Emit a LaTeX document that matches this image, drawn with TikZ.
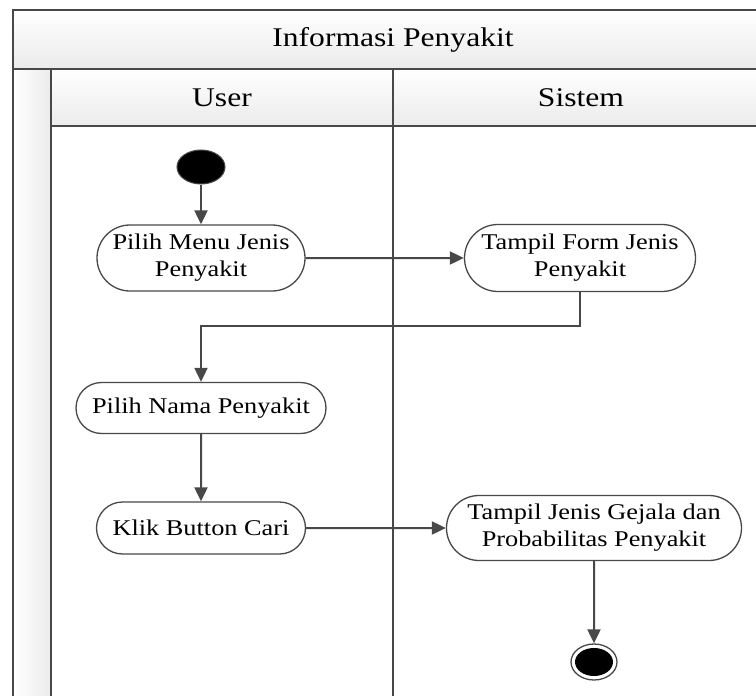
\documentclass[tikz,border=0pt]{standalone}
\usepackage{fontspec}
\setmainfont{Liberation Serif}[FakeStretch=1.17]
\usetikzlibrary{arrows.meta,shapes.misc,shapes.geometric}
\definecolor{linegray}{HTML}{484848}
\definecolor{shadegray}{HTML}{EBEBEB}
\newcommand{\actfont}{\fontsize{22.5}{27}\selectfont}
\newcommand{\headfont}{\fontsize{27}{32}\selectfont}
\begin{document}
\begin{tikzpicture}[x=1pt,y=-1pt,
  frame/.style={draw=linegray, line width=1.8pt},
  act/.style={rounded rectangle, draw=linegray, line width=1.3pt, fill=white,
    inner sep=0pt, align=center, font=\actfont},
  flow/.style={draw=linegray, line width=2pt, -{Triangle[length=14pt,width=13pt]}},
  head/.style={font=\headfont, inner sep=0pt},
]
\useasboundingbox (0,0) rectangle (756,696);
\begin{scope}
  \clip (0,0) rectangle (756,696);
  % shaded title band, lane headers and side strip
  \shade[top color=white, bottom color=shadegray] (13,10) rectangle (773,69);
  \shade[top color=white, bottom color=shadegray] (51,69) rectangle (773,126);
  \shade[left color=white, right color=shadegray] (13,69) rectangle (51,710);
  % pool and lane borders
  \draw[frame] (773,10) -- (13,10) -- (13,710);
  \draw[frame] (13,69) -- (773,69);
  \draw[frame] (51,69) -- (51,710);
  \draw[frame] (51,126) -- (773,126);
  \draw[frame] (393,69) -- (393,710);
\end{scope}

% headers
\node[head] (title) at (393,40) {Informasi Penyakit};
\node[head] (user) at (222,98) {User};
\node[head] (sistem) at (581,98) {Sistem};

% activities
\node[ellipse, fill=black, draw=linegray, line width=1pt,
  minimum width=48pt, minimum height=34pt, inner sep=0pt] (start) at (201,167) {};
\node[act, minimum width=208pt, minimum height=66pt] (n1) at (201,258)
  {Pilih Menu Jenis\\Penyakit};
\node[act, minimum width=231pt, minimum height=67pt] (n2) at (580,258)
  {Tampil Form Jenis\\Penyakit};
\node[act, minimum width=250pt, minimum height=51pt] (n3) at (201,408)
  {Pilih Nama Penyakit};
\node[act, minimum width=209pt, minimum height=52pt] (n4) at (201,528)
  {Klik Button Cari};
\node[act, minimum width=295pt, minimum height=65pt] (n5) at (594,528)
  {Tampil Jenis Gejala dan\\Probabilitas Penyakit};
\node[ellipse, draw=linegray, line width=1.3pt, fill=white,
  minimum width=46pt, minimum height=36pt, inner sep=0pt] (fin) at (594,662) {};
\fill[black] (fin.center) ellipse [x radius=19pt, y radius=14pt];

% control flow
\draw[flow] (start) -- (n1);
\draw[flow] (n1) -- (n2);
\draw[flow] (n2.south) -- ++(0,34) -| (n3.north);
\draw[flow] (n3) -- (n4);
\draw[flow] (n4) -- (n5);
\draw[flow] (n5) -- (fin);
\end{tikzpicture}
\end{document}
